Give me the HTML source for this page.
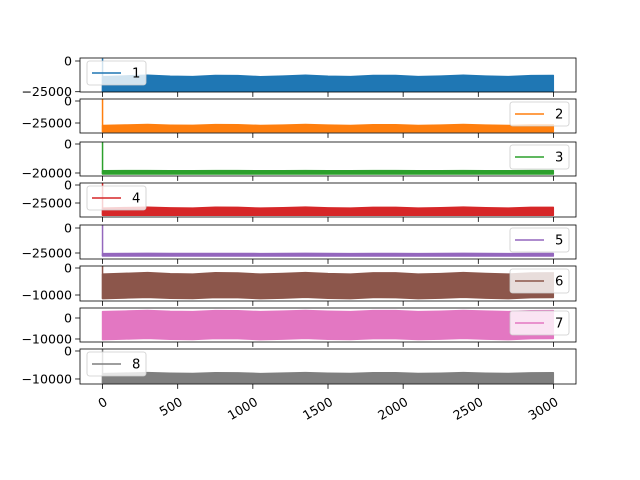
<!DOCTYPE html>
<html><head><meta charset="utf-8"><style>
html,body{margin:0;padding:0;background:#fff;}
svg{display:block;font-family:"DejaVu Sans","Liberation Sans",sans-serif;}
</style></head><body>
<svg id="fig" width="640" height="480" viewBox="0 0 640 480"></svg>
<script>
const seriesNames = ['1','2','3','4','5','6','7','8'];
const colors = ['#1f77b4','#ff7f0e','#2ca02c','#d62728','#9467bd','#8c564b','#e377c2','#7f7f7f'];
const xSamples = [0,150,300,450,600,750,900,1050,1200,1350,1500,1650,1800,1950,2100,2250,2400,2550,2700,2850,2999];
const startValues = [2000,2200,1300,2700,2900,700,null,650];
const upper1 = [-12790,-12200,-11610,-12440,-12690,-11760,-11890,-12780,-12280,-11600,-12380,-12730,-11800,-11830,-12740,-12340,-11600,-12310,-12760,-11860,-11780];
const lower1 = [-25000,-25000,-25000,-25000,-25000,-25000,-25000,-25000,-25000,-25000,-25000,-25000,-25000,-25000,-25000,-25000,-25000,-25000,-25000,-25000,-25000];
const upper2 = [-27840,-27300,-26760,-27520,-27750,-26890,-27010,-27830,-27380,-26750,-27470,-27780,-26940,-26960,-27800,-27430,-26750,-27400,-27820,-26990,-26920];
const lower2 = [-35000,-35000,-35000,-35000,-35000,-35000,-35000,-35000,-35000,-35000,-35000,-35000,-35000,-35000,-35000,-35000,-35000,-35000,-35000,-35000,-35000];
const upper3 = [-18470,-18400,-18330,-18430,-18460,-18340,-18360,-18470,-18410,-18330,-18420,-18470,-18350,-18350,-18470,-18420,-18330,-18410,-18470,-18360,-18350];
const lower3 = [-20700,-20700,-20700,-20700,-20700,-20700,-20700,-20700,-20700,-20700,-20700,-20700,-20700,-20700,-20700,-20700,-20700,-20700,-20700,-20700,-20700];
const upper4 = [-32190,-31500,-30810,-31780,-32070,-30980,-31140,-32170,-31600,-30800,-31710,-32120,-31040,-31070,-32130,-31670,-30800,-31630,-32160,-31110,-31010];
const lower4 = [-42000,-42000,-42000,-42000,-42000,-42000,-42000,-42000,-42000,-42000,-42000,-42000,-42000,-42000,-42000,-42000,-42000,-42000,-42000,-42000,-42000];
const upper5 = [-25570,-25500,-25430,-25530,-25560,-25440,-25460,-25570,-25510,-25430,-25520,-25570,-25450,-25450,-25570,-25520,-25430,-25510,-25570,-25460,-25450];
const lower5 = [-28000,-28000,-28000,-28000,-28000,-28000,-28000,-28000,-28000,-28000,-28000,-28000,-28000,-28000,-28000,-28000,-28000,-28000,-28000,-28000,-28000];
const upper6 = [-2290,-2000,-1710,-2120,-2250,-1780,-1840,-2290,-2040,-1700,-2090,-2260,-1800,-1810,-2270,-2070,-1700,-2050,-2280,-1830,-1790];
const lower6 = [-11350,-11100,-10860,-11200,-11310,-10920,-10970,-11340,-11140,-10850,-11180,-11320,-10940,-10950,-11330,-11160,-10850,-11150,-11340,-10960,-10930];
const upper7 = [3010,3300,3590,3180,3050,3520,3460,3010,3260,3600,3210,3040,3500,3490,3030,3230,3600,3250,3020,3470,3510];
const lower7 = [-10290,-10000,-9710,-10120,-10250,-9780,-9840,-10290,-10040,-9700,-10090,-10260,-9800,-9810,-10270,-10070,-9700,-10050,-10280,-9830,-9790];
const upper8 = [-8070,-7900,-7730,-7970,-8040,-7770,-7810,-8070,-7920,-7730,-7950,-8050,-7780,-7790,-8060,-7940,-7730,-7930,-8060,-7800,-7780];
const lower8 = [-11400,-11400,-11400,-11400,-11400,-11400,-11400,-11400,-11400,-11400,-11400,-11400,-11400,-11400,-11400,-11400,-11400,-11400,-11400,-11400,-11400];
const xTicks = [0,500,1000,1500,2000,2500,3000];
const yTickValues = [[0,-25000],[0,-25000],[0,-20000],[0,-25000],[0,-25000],[0,-10000],[0,-10000],[0,-10000]];
const uppers=[upper1,upper2,upper3,upper4,upper5,upper6,upper7,upper8];
const lowers=[lower1,lower2,lower3,lower4,lower5,lower6,lower7,lower8];

// layout
const axL=80, axR=576, xMin=-150, xMax=3150;
const panelTop=[58,99,142,183,225,266,308,349];
const panelBot=[92,133,176,217,259,301,342,384];
const yLimTop=[2440,2270,1380,2780,3000,740,4760,710];
const yLimBot=[-25240,-36360,-22070,-44440,-31000,-12220,-11430,-11790];
const legendSide=['left','right','right','left','right','right','right','left'];

const NS='http://www.w3.org/2000/svg';
const svg=document.getElementById('fig');
function mk(tag,attrs,parent){const e=document.createElementNS(NS,tag);for(const k in attrs)e.setAttribute(k,attrs[k]);(parent||svg).appendChild(e);return e;}
const xs=v=>axL+(v-xMin)/(xMax-xMin)*(axR-axL);
function ysFor(i){return v=>panelTop[i]+(yLimTop[i]-v)/(yLimTop[i]-yLimBot[i])*(panelBot[i]-panelTop[i]);}
const fmt=v=>v<0?'\u2212'+Math.abs(v):String(v);

const defs=mk('defs',{});
for(let i=0;i<8;i++){
  const ys=ysFor(i);
  const cp=mk('clipPath',{id:'clip'+i},defs);
  mk('rect',{x:axL,y:panelTop[i],width:axR-axL,height:panelBot[i]-panelTop[i]},cp);
  const g=mk('g',{});
  
  
  const pg=mk('g',{'clip-path':'url(#clip'+i+')'},g);
  let d='M'+xSamples.map((x,k)=>xs(x).toFixed(2)+','+ys(uppers[i][k]).toFixed(2)).join(' L');
  for(let k=xSamples.length-1;k>=0;k--) d+=' L'+xs(xSamples[k]).toFixed(2)+','+ys(lowers[i][k]).toFixed(2);
  d+='Z';
  const band=mk('path',{d:d,fill:colors[i],stroke:colors[i],'stroke-width':1.5,'stroke-linejoin':'round'},pg);
  
  
  if(startValues[i]!==null){
    const sp=mk('line',{x1:xs(0),x2:xs(0),y1:ys(startValues[i]),y2:ys(lowers[i][0]),stroke:colors[i],'stroke-width':1.5},pg);
    
    
  }
  const fr=mk('rect',{x:axL,y:panelTop[i],width:axR-axL,height:panelBot[i]-panelTop[i],fill:'none',stroke:'#000','stroke-width':0.8},g);
  
  
  xTicks.forEach(t=>{
    const tk=mk('line',{x1:xs(t),x2:xs(t),y1:panelBot[i],y2:panelBot[i]+4.9,stroke:'#000','stroke-width':0.8},g);
    
    
  });
  yTickValues[i].forEach(v=>{
    const y=ys(v);
    const tk=mk('line',{x1:axL-4.9,x2:axL,y1:y,y2:y,stroke:'#000','stroke-width':0.8},g);
    
    
    const tl=mk('text',{x:axL-8,y:y+4.5,'text-anchor':'end','font-size':'12.6px',fill:'#000'},g);
    tl.textContent=fmt(v);
    
    
  });
  const lw=59, lh=24;
  const lx=legendSide[i]==='left'?axL+7:axR-7-lw;
  const ly=panelTop[i]+3;
  const lg=mk('g',{},g);
  
  
  mk('rect',{x:lx,y:ly,width:lw,height:lh,rx:2.5,fill:'#fff','fill-opacity':0.8,stroke:'#ccc','stroke-width':0.8},lg);
  mk('line',{x1:lx+5,x2:lx+34,y1:ly+lh/2,y2:ly+lh/2,stroke:colors[i],'stroke-width':1.5},lg);
  const lt=mk('text',{x:lx+45,y:ly+lh/2+4.6,'font-size':'13.2px',fill:'#000'},lg);
  lt.textContent=seriesNames[i];
  
  
}
xTicks.forEach(t=>{
  const x=xs(t)+1, y=396;
  const tl=mk('text',{x:x,y:y,'text-anchor':'end','dominant-baseline':'hanging','font-size':'12.6px',fill:'#000',transform:'rotate(-30 '+x+' '+y+')'});
  tl.textContent=String(t);
  
  
});
</script>
</body></html>
